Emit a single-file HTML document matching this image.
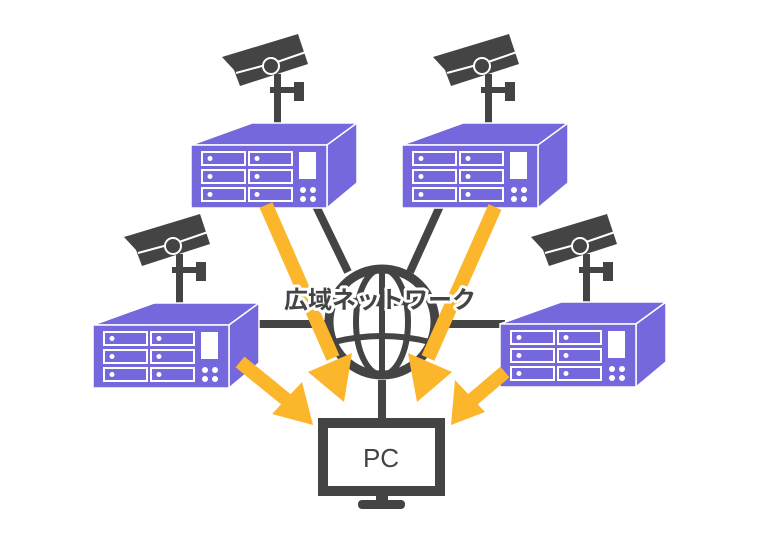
<!DOCTYPE html>
<html><head><meta charset="utf-8"><style>html,body{margin:0;padding:0;background:#fff}svg{display:block}</style></head>
<body>
<svg width="760" height="540" viewBox="0 0 760 540" xmlns="http://www.w3.org/2000/svg">
<defs>
<g id="cam">
  <rect x="274" y="74" width="7" height="50" fill="#444"/>
  <rect x="270" y="87" width="30" height="6" fill="#444"/>
  <rect x="294" y="82" width="10" height="19" fill="#444"/>
  <polygon points="222,57 298,34 308,64 240,86 234,70" fill="#444"/>
  <polyline points="236,73 262,66 280,61 306,52" fill="none" stroke="#fff" stroke-width="2"/>
  <circle cx="271" cy="66" r="8" fill="#444" stroke="#fff" stroke-width="2"/>
</g>
<g id="dvr">
  <polygon points="191,145 252,123 357,123 327,145" fill="#7567dc" stroke="#fff" stroke-width="1.5"/>
  <polygon points="327,145 357,123 357,183 327,208" fill="#7567dc" stroke="#fff" stroke-width="1.5"/>
  <rect x="191" y="145" width="136" height="63" fill="#7567dc" stroke="#fff" stroke-width="1.5"/>
  <g fill="none" stroke="#fff" stroke-width="2">
    <rect x="202" y="152" width="43" height="13"/><rect x="249" y="152" width="43" height="13"/>
    <rect x="202" y="170" width="43" height="13"/><rect x="249" y="170" width="43" height="13"/>
    <rect x="202" y="188" width="43" height="13"/><rect x="249" y="188" width="43" height="13"/>
  </g>
  <g fill="#fff">
    <circle cx="210" cy="158.5" r="2.5"/><circle cx="257" cy="158.5" r="2.5"/>
    <circle cx="210" cy="176.5" r="2.5"/><circle cx="257" cy="176.5" r="2.5"/>
    <circle cx="210" cy="194.5" r="2.5"/><circle cx="257" cy="194.5" r="2.5"/>
    <rect x="299" y="152" width="17" height="27"/>
    <circle cx="303" cy="190" r="3"/><circle cx="313" cy="190" r="3"/>
    <circle cx="303" cy="199" r="3"/><circle cx="313" cy="199" r="3"/>
  </g>
</g>
</defs>
<g stroke="#444" stroke-width="8" fill="none">
  <line x1="316" y1="206" x2="348" y2="272"/>
  <line x1="440" y1="206" x2="410" y2="272"/>
  <line x1="255" y1="324" x2="330" y2="324"/>
  <line x1="434" y1="324" x2="505" y2="324"/>
  <line x1="382" y1="380" x2="382" y2="420"/>
</g>
<g stroke="#444" fill="none">
  <circle cx="382" cy="322" r="53" stroke-width="9"/>
  <ellipse cx="382" cy="322" rx="26" ry="53" stroke-width="6"/>
  <line x1="382" y1="269" x2="382" y2="375" stroke-width="6"/>
  <path d="M337 297 Q382 310 427 297" stroke-width="6"/>
  <path d="M334 342 Q382 330 430 342" stroke-width="6"/>
</g>
<use href="#cam"/><use href="#dvr"/>
<use href="#cam" transform="translate(211,0)"/><use href="#dvr" transform="translate(211,0)"/>
<use href="#cam" transform="translate(-98,180)"/><use href="#dvr" transform="translate(-98,180)"/>
<use href="#cam" transform="translate(309,180)"/><use href="#dvr" transform="translate(309,179)"/>
<g fill="#fbb62c" stroke="none">
  <line x1="266" y1="205" x2="333" y2="358" stroke="#fbb62c" stroke-width="14"/>
  <polygon points="308,372 352,353 344,402"/>
  <line x1="495" y1="207" x2="428" y2="358" stroke="#fbb62c" stroke-width="14"/>
  <polygon points="408,353 452,372 417,402"/>
  <line x1="240" y1="362" x2="288" y2="401" stroke="#fbb62c" stroke-width="14"/>
  <polygon points="272,414 302,382 313,425"/>
  <line x1="505" y1="372" x2="472" y2="400" stroke="#fbb62c" stroke-width="14"/>
  <polygon points="455,380 485,412 451,425"/>
</g>
<text x="380" y="308" text-anchor="middle" font-family="'Liberation Sans','Noto Sans CJK JP',sans-serif" font-size="24" font-weight="bold" fill="#444" stroke="#fff" stroke-width="6" paint-order="stroke" stroke-linejoin="round">広域ネットワーク</text>
<rect x="323" y="423" width="117" height="68" fill="#fff" stroke="#444" stroke-width="10"/>
<rect x="376" y="495" width="12" height="8" fill="#444"/>
<rect x="358" y="500" width="47" height="9" rx="4" fill="#444"/>
<text x="381" y="467" text-anchor="middle" font-family="'Liberation Sans',sans-serif" font-size="26" fill="#444">PC</text>
</svg>
</body></html>
